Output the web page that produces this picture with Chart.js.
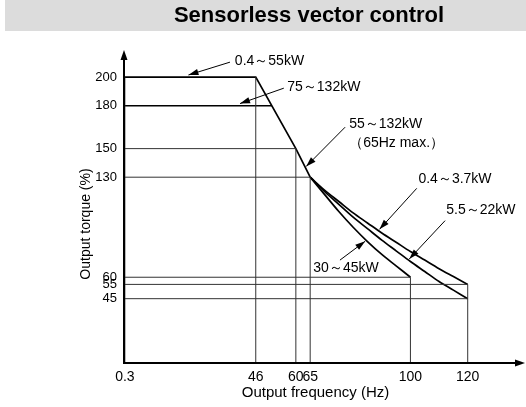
<!DOCTYPE html>
<html>
<head>
<meta charset="utf-8">
<script src="https://cdn.jsdelivr.net/npm/chart.js@4/dist/chart.umd.min.js"></script>
<style>
  html, body { margin: 0; padding: 0; background: #fff; }
</style>
</head>
<body>
<canvas id="torqueChart" width="526" height="407"></canvas>
<script>
// marked frequencies (Hz) and torque levels (%)
const freqTicks = [0.3, 46, 60, 65, 100, 120];
const torqueTicks = [45, 55, 60, 130, 150, 180, 200];

// vertical guides: torque reached at each marked frequency
const guideFreq = [0.3, 46, 60, 65, 100, 120];
const guideTop = [200, 200, 150, 130, 60, 55];

// horizontal guides from the torque axis
const levelTorque = [150, 130, 60, 55, 45];
const levelEnd = [60, 65, 100, 120, 120];

// 0.4~55kW: 200% up to 46Hz, then falling
const freqA = [0.3, 46, 60, 65];
const torqueA = [200, 200, 150, 130];

// 75~132kW: 180% until it meets the falling line
const freqB = [0.3, 51.6];
const torqueB = [180, 180];

// above 65Hz, per capacity
const freqHigh = [65, 70, 75, 80, 85, 90, 95, 100, 105, 110, 115, 120];
const torque37kW = [130, 121, 113, 105, 98, 91, 84.5, 78, 72, 66, 60.5, 55];
const torque22kW = [130, 120, 111, 102, 94, 86, 78.5, 71, 64, 57, 51, 45];
const freq45kW = [65, 70, 75, 80, 85, 90, 95, 100];
const torque45kW = [130, 118, 106, 95, 85, 76, 68, 60];

// callouts: text lines, text anchor, arrow tail, arrow tip (all in Hz / %)
const notes = [
  { text: ['0.4～55kW'], at: [38.7, 211.5], tail: [37.0, 210.5], tip: [22.5, 201.5] },
  { text: ['75～132kW'], at: [57.0, 193], tail: [55.8, 192.3], tip: [40.5, 181.5] },
  { text: ['55～132kW', '（65Hz max.）'], at: [78.6, 167.4], tail: [77.2, 165], tip: [63.6, 137.5] },
  { text: ['0.4～3.7kW'], at: [102.8, 128.6], tail: [102.2, 122.2], tip: [89.2, 93.5] },
  { text: ['5.5～22kW'], at: [112.5, 106.7], tail: [112.1, 99.6], tip: [99.6, 72.8] },
  { text: ['30～45kW'], at: [66.1, 66.1], tail: [75.4, 72], tip: [84.2, 85.2] },
];

const FONT = '"Liberation Sans", Arial, Helvetica, sans-serif';

const pts = (xs, ys) => xs.map((x, i) => ({ x, y: ys[i] }));

const guide = (data) => ({
  data, showLine: true, borderColor: '#333', borderWidth: 1,
  pointRadius: 0, tension: 0,
});
const curve = (data, smooth) => ({
  data, showLine: true, borderColor: '#000', borderWidth: 1.7,
  pointRadius: 0, tension: 0,
  cubicInterpolationMode: smooth ? 'monotone' : 'default',
});

const datasets = [];
guideFreq.forEach((f, i) => datasets.push(guide([{ x: f, y: 0 }, { x: f, y: guideTop[i] }])));
levelTorque.forEach((t, i) => datasets.push(guide([{ x: 0, y: t }, { x: levelEnd[i], y: t }])));
datasets.push(curve(pts(freqA, torqueA), false));
datasets.push(curve(pts(freqB, torqueB), false));
datasets.push(curve(pts(freqHigh, torque37kW), true));
datasets.push(curve(pts(freqHigh, torque22kW), true));
datasets.push(curve(pts(freq45kW, torque45kW), true));

function arrowHead(ctx, x0, y0, x1, y1, len, half) {
  const a = Math.atan2(y1 - y0, x1 - x0);
  ctx.beginPath();
  ctx.moveTo(x1, y1);
  ctx.lineTo(x1 - len * Math.cos(a) + half * Math.sin(a), y1 - len * Math.sin(a) - half * Math.cos(a));
  ctx.lineTo(x1 - len * Math.cos(a) - half * Math.sin(a), y1 - len * Math.sin(a) + half * Math.cos(a));
  ctx.closePath();
  ctx.fill();
}

// title band, axes with arrows, axis titles and callouts
const decorations = {
  id: 'decorations',
  beforeDraw(chart) {
    const { ctx, width } = chart;
    ctx.save();
    ctx.fillStyle = '#dcdcdc';
    ctx.fillRect(5, 0, width - 5, 31);
    ctx.fillStyle = '#000';
    ctx.font = 'bold 22px ' + FONT;
    ctx.textAlign = 'center';
    ctx.textBaseline = 'middle';
    ctx.fillText('Sensorless vector control', 309, 16);
    ctx.restore();
  },
  afterDraw(chart) {
    const { ctx, chartArea: area, scales: { x, y } } = chart;
    ctx.save();
    ctx.strokeStyle = '#000';
    ctx.fillStyle = '#000';

    // axes
    ctx.lineWidth = 2;
    ctx.beginPath();
    ctx.moveTo(area.left, area.top + 6);
    ctx.lineTo(area.left, area.bottom);
    ctx.lineTo(area.right - 6, area.bottom);
    ctx.stroke();
    arrowHead(ctx, area.left, area.bottom, area.left, area.top, 10, 3.5);
    arrowHead(ctx, area.left, area.bottom, area.right, area.bottom, 10, 3.5);

    // axis titles
    ctx.textBaseline = 'middle';
    ctx.textAlign = 'center';
    ctx.font = '15px ' + FONT;
    ctx.fillText('Output frequency (Hz)', 315.5, 393);
    ctx.save();
    ctx.translate(86, 224);
    ctx.rotate(-Math.PI / 2);
    ctx.font = '14px ' + FONT;
    ctx.fillText('Output torque (%)', 0, 0);
    ctx.restore();

    // callouts
    ctx.lineWidth = 1;
    ctx.font = '14px ' + FONT;
    ctx.textAlign = 'left';
    notes.forEach((n) => {
      const tx = x.getPixelForValue(n.tail[0]);
      const ty = y.getPixelForValue(n.tail[1]);
      const hx = x.getPixelForValue(n.tip[0]);
      const hy = y.getPixelForValue(n.tip[1]);
      ctx.beginPath();
      ctx.moveTo(tx, ty);
      ctx.lineTo(hx, hy);
      ctx.stroke();
      arrowHead(ctx, tx, ty, hx, hy, 10, 3.2);
      const ax = x.getPixelForValue(n.at[0]);
      const ay = y.getPixelForValue(n.at[1]);
      n.text.forEach((t, i) => ctx.fillText(t, ax, ay + i * 19));
    });
    ctx.restore();
  },
};

new Chart(document.getElementById('torqueChart'), {
  type: 'scatter',
  data: { datasets },
  options: {
    responsive: false,
    animation: false,
    devicePixelRatio: 1,
    layout: { padding: { top: 50, left: 0, right: 1, bottom: 0 } },
    plugins: { legend: { display: false }, tooltip: { enabled: false } },
    scales: {
      x: {
        type: 'linear',
        min: 0,
        max: 140,
        grid: { display: false, drawTicks: false },
        border: { display: false },
        afterBuildTicks: (scale) => { scale.ticks = freqTicks.map((v) => ({ value: v })); },
        afterFit: (scale) => { scale.height = 44; },
        ticks: {
          autoSkip: false,
          maxRotation: 0,
          padding: 6,
          color: '#000',
          font: { family: FONT, size: 14 },
        },
      },
      y: {
        type: 'linear',
        min: 0,
        max: 219,
        grid: { display: false, drawTicks: false },
        border: { display: false },
        afterBuildTicks: (scale) => { scale.ticks = torqueTicks.map((v) => ({ value: v })); },
        afterFit: (scale) => { scale.width = 124; },
        ticks: {
          autoSkip: false,
          padding: 7,
          color: '#000',
          font: { family: FONT, size: 13 },
        },
      },
    },
  },
  plugins: [decorations],
});
</script>
</body>
</html>
